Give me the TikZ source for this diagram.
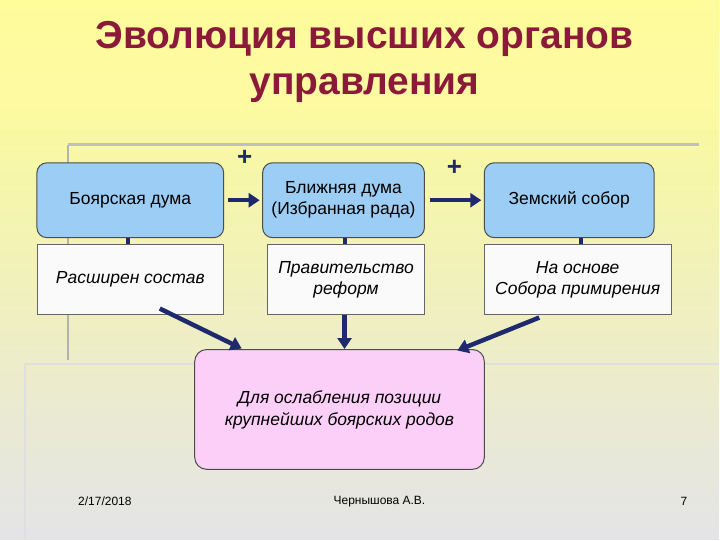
\documentclass[tikz,border=0pt]{standalone}
\usepackage{fontspec}
\setmainfont{Liberation Sans}
\usetikzlibrary{arrows.meta}
\definecolor{ttl}{HTML}{8B1A3A}
\definecolor{bfill}{HTML}{9CCDF4}
\definecolor{pfill}{HTML}{FCCFF8}
\definecolor{arr}{HTML}{1F2A6E}
\begin{document}
\begin{tikzpicture}[x=1pt,y=-1pt,
  topbox/.style={draw=black!70,line width=1pt,fill=bfill,rounded corners=10pt,inner sep=0pt,font=\fontsize{17.5}{21}\selectfont,align=center},
  lowbox/.style={draw=black!60,line width=0.6pt,fill=white!96!gray,inner sep=0pt,font=\fontsize{17.5}{21}\selectfont\itshape,align=center},
  conn/.style={arr,line width=4pt},
  arrw/.style={arr,line width=4.5pt,-{Triangle[length=11pt,width=14pt]}}]
\shade[top color=yellow!45,bottom color=blue!6!gray!20] (0,0) rectangle (720,540);
\fill[yellow!35,opacity=0.6] (0,0) rectangle (720,130);
\draw[gray!60,line width=2pt] (68,145) -- (68,360);
\draw[gray!50,line width=3pt] (68,145) -- (700,145);
\draw[gray!25,line width=2pt] (25,365) -- (25,540);
\draw[gray!25,line width=2pt] (25,365) -- (720,365);
\node[text=ttl,font=\fontsize{39}{46}\bfseries,align=center] (title) at (365,62) {Эволюция высших органов\\управления};
\node[topbox,minimum width=187pt,minimum height=75pt] (a) at (130.5,200.5) {Боярская дума};
\node[topbox,minimum width=162pt,minimum height=75pt] (b) at (344,200.5) {Ближняя дума\\(Избранная рада)};
\node[topbox,minimum width=170pt,minimum height=75pt] (c) at (570,200.5) {Земский собор};
\node[lowbox,minimum width=187pt,minimum height=70pt] (a2) at (130.5,280) {Расширен состав};
\node[lowbox,minimum width=157pt,minimum height=70pt] (b2) at (346.5,280) {Правительство\\реформ};
\node[lowbox,minimum width=187pt,minimum height=70pt] (c2) at (578.5,280) {На основе\\Собора примирения};
\node[draw=black!70,line width=1pt,fill=pfill,rounded corners=12pt,minimum width=290pt,minimum height=120pt,font=\fontsize{17.5}{22}\selectfont\itshape,align=center] (d) at (340,410) {Для ослабления позиции\\крупнейших боярских родов};
\draw[conn] (a.south -| 128,0) -- (a2.north -| 128,0);
\draw[conn] (b.south -| 345,0) -- (b2.north -| 345,0);
\draw[conn] (c.south -| 582,0) -- (c2.north -| 582,0);
\draw[arrw] (a.east) ++(4,0) coordinate (a1) -- (b.west -| 260,0);
\draw[arrw] (b.east) ++(5,0) -- (c.west -| 482,0);
\node[font=\fontsize{26}{26}\bfseries,text=arr] (p1) at (245,158) {+};
\node[font=\fontsize{26}{26}\bfseries,text=arr] (p2) at (455,168) {+};
\coordinate (s1) at (160,309);
\coordinate (e1) at (242,349);
\coordinate (s3) at (540,318);
\coordinate (e3) at (458,351);
\draw[arrw] (s1) -- (e1);
\draw[arrw] (b2.south -| 345,0) -- (d.north -| 345,0);
\draw[arrw] (s3) -- (e3);
\node[font=\fontsize{12}{14}\selectfont] (f1) at (105,502) {2/17/2018};
\node[font=\fontsize{12}{14}\selectfont] (f2) at (380,502) {Чернышова А.В.};
\node[font=\fontsize{12}{14}\selectfont] (f3) at (685,502) {7};
\end{tikzpicture}
\end{document}
